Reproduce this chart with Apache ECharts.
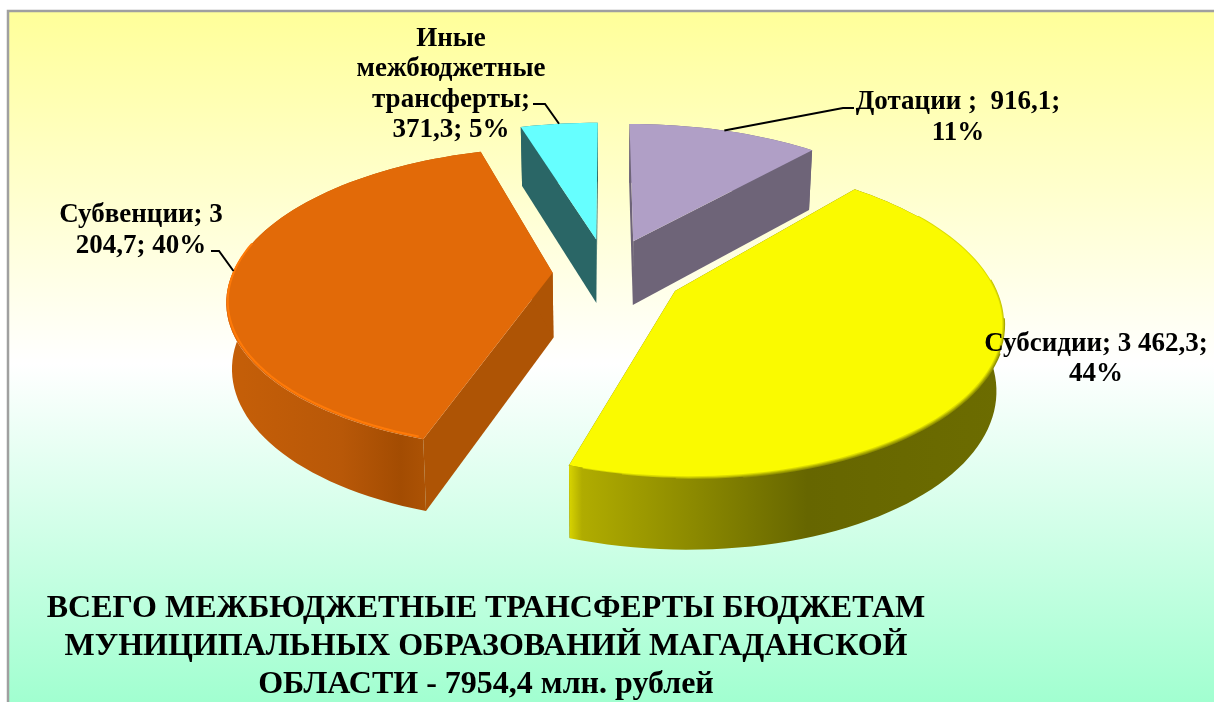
<!DOCTYPE html>
<html><head><meta charset="utf-8">
<style>html,body{margin:0;padding:0;background:#fff}#c{width:1214px;height:702px}</style>
<script src="https://cdn.jsdelivr.net/npm/echarts@6/dist/echarts.min.js"></script>
</head><body><div id="c"></div>
<script>
// ---- data ----
const categories = ["Дотации", "Субсидии", "Субвенции", "Иные межбюджетные трансферты"];
const values = [916.1, 3462.3, 3204.7, 371.3];
const labelTexts = ["Дотации ;  916,1;\n11%", "Субсидии; 3 462,3;\n44%", "Субвенции; 3\n204,7; 40%", "Иные\nмежбюджетные\nтрансферты;\n371,3; 5%"];
const titleText = "ВСЕГО МЕЖБЮДЖЕТНЫЕ ТРАНСФЕРТЫ БЮДЖЕТАМ\nМУНИЦИПАЛЬНЫХ ОБРАЗОВАНИЙ МАГАДАНСКОЙ\nОБЛАСТИ - 7954,4 млн. рублей";

// ---- drawing settings ----
const FONT = '"Liberation Serif","Times New Roman",serif';
const view = {cx: 607, cy: 273, R: 320, Ry: 147, k: 0.17, H0: 29, H1: 36, shrink: 0.985};
const explode = [0.24, 0.24, 0.17, 0.24];
const widthScale = [1, 0.98, 1, 1];
const looks = [
  {top: '#b09fc6', side: '#6e6478', wall: [[0, '#6e6478'], [1, '#6e6478']]},
  {top: '#fafa00', side: '#666600', wall: [[0, '#d8d400'], [0.03, '#b0ac00'], [0.55, '#666600'], [1, '#6c6c00']],
   bevel: [[112, 172, '#8f8f00', 7.5], [100, 182, '#a8a800', 5.5], [86, 190, '#c4c400', 3.5], [58, 196, '#dcdc00', 2]]},
  {top: '#e26a08', side: '#ae5405', wall: [[0, '#c65f08'], [0.45, '#b85808'], [0.68, '#a34c02'], [0.8, '#ae5405'], [1, '#ae5405']], glow: '#ff7a08'},
  {top: '#66ffff', side: '#2a6666', wall: [[0, '#2a6666'], [1, '#2a6666']]}
];
const labelBoxes = [
  {x: 958, y: 117.5, elbow: [[854, 108], [843, 108]]},
  {x: 1096, y: 359},
  {x: 141, y: 230.5, elbow: [[211, 251], [219, 251]]},
  {x: 451, y: 84.5, elbow: [[533, 104], [545, 104]]}
];

const total = values.reduce((a, b) => a + b, 0);
const rad = d => d * Math.PI / 180;
function spans() {
  let a = 0;
  return values.map(v => { const s = a; a += v / total * 360; return [s, a]; });
}
const angleSpans = spans();
function project(deg, radius, i, z) {
  const [s, e] = angleSpans[i];
  const mid = rad((s + e) / 2);
  const u = radius * widthScale[i] * Math.sin(rad(deg)) + explode[i] * Math.sin(mid);
  const v = radius * Math.cos(rad(deg)) + explode[i] * Math.cos(mid);
  const w = 1 + view.k * v;
  const sc = z ? view.shrink : 1;
  return [view.cx + view.R * u / w * sc, view.cy - view.Ry * v / w + z * (view.H0 + view.H1 / w)];
}
function arc(i, from, to, z) {
  const pts = [];
  const n = Math.max(2, Math.ceil(Math.abs(to - from) / 2));
  for (let j = 0; j <= n; j++) pts.push(project(from + (to - from) * j / n, 1, i, z));
  return pts;
}
function grad(stops) {
  return {type: 'linear', x: 0, y: 0, x2: 1, y2: 0, colorStops: stops.map(s => ({offset: s[0], color: s[1]}))};
}
function renderSlice(params, api) {
  const i = params.dataIndex;
  const [s, e] = angleSpans[i];
  const look = looks[i];
  const kids = [];
  const poly = (points, fill) => kids.push({type: 'polygon', shape: {points}, style: {fill}});
  const line = (points, stroke, lineWidth) => kids.push({type: 'polyline', shape: {points}, style: {stroke, lineWidth, fill: 'none', lineCap: 'butt'}});
  const topArc = arc(i, s, e, 0), botArc = arc(i, s, e, 1);
  const a0 = project(0, 0, i, 0), a1 = project(0, 0, i, 1);
  poly([a0, topArc[0], botArc[0], a1], look.side);
  poly([a0, topArc[topArc.length - 1], botArc[botArc.length - 1], a1], look.side);
  poly(topArc.concat(botArc.slice().reverse()), grad(look.wall));
  (look.bevel || []).forEach(b => line(arc(i, b[0], b[1], 0), b[2], b[3]));
  poly([a0].concat(topArc), look.top);
  if (look.glow) {
    line(arc(i, e - 62, s + 1, 0).map(p => [p[0] + 1.5, p[1] - 1.5]), look.glow, 2);
  }
  return {type: 'group', children: kids};
}
function renderLabel(params, api) {
  const i = params.dataIndex;
  const box = labelBoxes[i];
  const kids = [];
  if (box.elbow) {
    const mid = (angleSpans[i][0] + angleSpans[i][1]) / 2;
    kids.push({type: 'polyline', shape: {points: box.elbow.concat([project(mid, 1, i, 0)])}, style: {stroke: '#000', lineWidth: 2, fill: 'none'}});
  }
  kids.push({type: 'text', style: {text: labelTexts[i], x: box.x, y: box.y, align: 'center', verticalAlign: 'middle', font: 'bold 27px ' + FONT, lineHeight: 30.5, fill: '#000'}});
  return {type: 'group', children: kids};
}
const seriesData = categories.map((name, i) => ({name, value: [values[i]]}));
const chart = echarts.init(document.getElementById('c'), null, {renderer: 'canvas'});
chart.setOption({
  animation: false,
  backgroundColor: '#fff',
  title: {text: titleText, left: 481, top: 585, textAlign: 'center', textStyle: {fontFamily: FONT, fontWeight: 'bold', fontSize: 32, lineHeight: 37.7, color: '#000'}},
  graphic: [{type: 'rect', z: -1, shape: {x: 8, y: 11, width: 1230, height: 720}, style: {stroke: '#a0a0a0', lineWidth: 2.5, fill: {type: 'linear', x: 0, y: 0, x2: 0, y2: 1, colorStops: [{offset: 0, color: '#ffff99'}, {offset: 0.49, color: '#ffffff'}, {offset: 1, color: '#99ffcc'}]}}}],
  series: [
    {type: 'custom', coordinateSystem: 'none', z: 2, silent: true, data: seriesData, renderItem: renderSlice},
    {type: 'custom', coordinateSystem: 'none', z: 3, silent: true, data: seriesData, renderItem: renderLabel}
  ]
});
</script></body></html>
